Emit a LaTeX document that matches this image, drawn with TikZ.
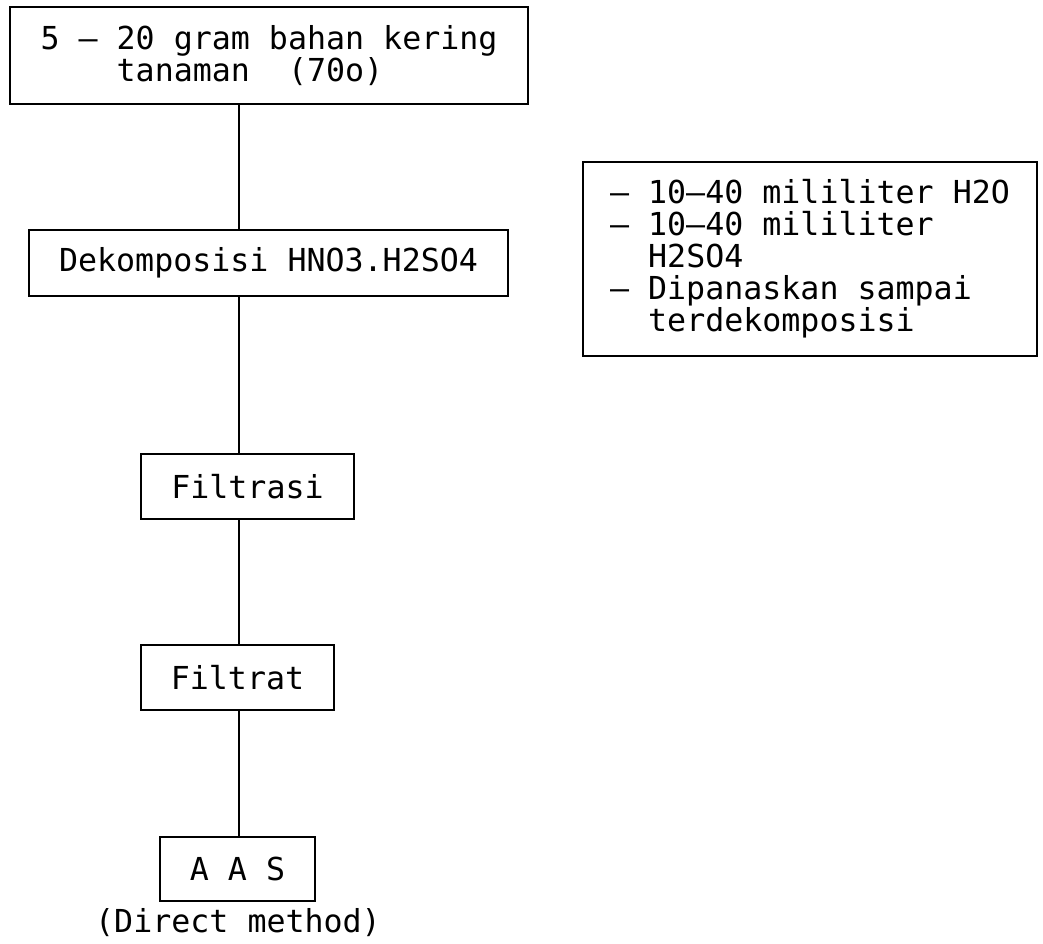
\documentclass[tikz,border=0pt]{standalone}
\usepackage{fontspec}
\newfontfamily\dotfont{DejaVu Sans Mono}
\newcommand\pxl{0.02cm}
\tikzset{
  stage/.style={draw,line width=1.1pt,inner sep=0pt,align=center,
    font=\dotfont\fontsize{18}{18.2}\selectfont},
  note/.style={font=\dotfont\fontsize{18}{18.2}\selectfont},
  link/.style={line width=1.1pt},
}
\begin{document}
\begin{tikzpicture}[x=0.02cm,y=-0.02cm]
            \useasboundingbox (0,0) rectangle (1043,943);
            \coordinate (spine) at (239,0);
            \node[stage,minimum width=518*\pxl,minimum height=97*\pxl,align=left] (sampel) at (269,55.5) {5 – 20 gram bahan kering\\\phantom{xxxx}tanaman\ \ (70o)};
            \node[stage,minimum width=479*\pxl,minimum height=66*\pxl] (dekomp) at (268.5,263) {Dekomposisi HNO3.H2SO4};
            \node[stage,minimum width=213*\pxl,minimum height=65*\pxl] (filtrasi) at (247.5,486.5) {Filtrasi};
            \node[stage,minimum width=193*\pxl,minimum height=65*\pxl] (filtrat) at (237.5,677.5) {Filtrat};
            \node[stage,minimum width=155*\pxl,minimum height=64*\pxl] (aas) at (237.5,869) {A A S};
            \node[note] (metode) at (238,923) {(Direct method)};
            \node[stage,minimum width=454*\pxl,minimum height=194*\pxl,align=left] (reagen) at (810,259) {– 10–40 mililiter H2O\\– 10–40 mililiter\\\phantom{––}H2SO4\\– Dipanaskan sampai\\\phantom{––}terdekomposisi};
            \draw[link] (sampel.south -| spine) -- (dekomp.north -| spine);
            \draw[link] (dekomp.south -| spine) -- (filtrasi.north -| spine);
            \draw[link] (filtrasi.south -| spine) -- (filtrat.north -| spine);
            \draw[link] (filtrat.south -| spine) -- (aas.north -| spine);
        \end{tikzpicture}
\end{document}
